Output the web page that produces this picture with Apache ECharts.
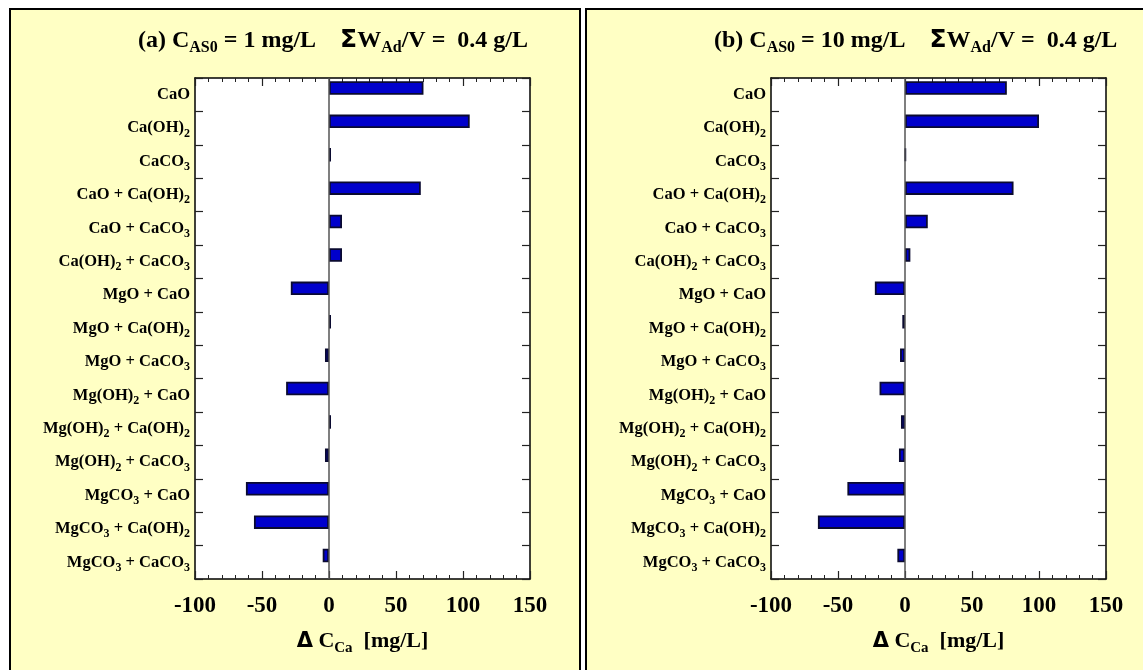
<!DOCTYPE html>
<html>
<head>
<meta charset="utf-8">
<script src="https://cdn.jsdelivr.net/npm/echarts@6/dist/echarts.min.js"></script>
<style>
html,body{margin:0;padding:0;background:#fff;}
#chart{width:1143px;height:670px;}
</style>
</head>
<body>
<div id="chart"></div>
<script>
// Data
var categories = ['CaO','Ca(OH)2','CaCO3','CaO + Ca(OH)2','CaO + CaCO3','Ca(OH)2 + CaCO3',
  'MgO + CaO','MgO + Ca(OH)2','MgO + CaCO3','Mg(OH)2 + CaO','Mg(OH)2 + Ca(OH)2',
  'Mg(OH)2 + CaCO3','MgCO3 + CaO','MgCO3 + Ca(OH)2','MgCO3 + CaCO3'];
var valuesA = [70.5, 105, 1.5, 68.5, 9.7, 9.7, -28.5, 1.5, -3, -32, 1.5, -3, -62, -56, -4.7];
var valuesB = [76, 100, 0.5, 81, 17, 4, -22.5, -2, -3.7, -19, -3, -4.5, -43, -65, -5.7];
var xTicks = [-100, -50, 0, 50, 100, 150];
var titleA = '(a) C{sub|AS0} = 1 mg/L    {sig|Σ}W{sub|Ad}/V =  0.4 g/L';
var titleB = '(b) C{sub|AS0} = 10 mg/L    {sig|Σ}W{sub|Ad}/V =  0.4 g/L';
var axisName = '{sig|Δ} C{sub|Ca}  [mg/L]';

var SERIF = 'Liberation Serif';
var chart = echarts.init(document.getElementById('chart'));

function catFmt(v){ return v.replace(/(\d)/g, '{s|$1}'); }

var grids = [
  {left:195, top:78, width:335, height:501},
  {left:771, top:78, width:335, height:501}
];

var xAxes = [], yAxes = [], series = [];
[valuesA, valuesB].forEach(function(vals, gi){
  var common = {
    gridIndex: gi, type:'value', min: xTicks[0], max: xTicks[xTicks.length-1], interval: 50,
    splitLine:{show:false},
    axisLine:{show:true, onZero:false, lineStyle:{color:'#000', width:1.5}},
    axisTick:{show:true, inside:true, length:8, lineStyle:{color:'#222', width:1.2}},
    minorTick:{show:true, splitNumber:5, length:4, lineStyle:{color:'#222', width:1}},
  };
  xAxes.push(Object.assign({}, common, {
    position:'bottom',
    axisLabel:{show:true, margin:16, color:'#000', fontFamily:SERIF, fontWeight:'bold', fontSize:23},
    name: axisName, nameLocation:'middle', nameGap:48,
    nameTextStyle:{color:'#000', fontFamily:SERIF, fontWeight:'bold', fontSize:22,
      rich:{
        sig:{fontFamily:'DejaVu Sans', fontWeight:'bold', fontSize:21, color:'#000'},
        sub:{fontFamily:SERIF, fontWeight:'bold', fontSize:15, color:'#000', padding:[14,0,0,0]}
      }}
  }));
  xAxes.push(Object.assign({}, common, {position:'top', axisLabel:{show:false}}));
  var ycommon = {
    gridIndex: gi, type:'category', inverse:true, data: categories,
    axisLine:{show:true, onZero:false, lineStyle:{color:'#000', width:1.5}},
    axisTick:{show:true, inside:true, length:8, alignWithLabel:false, lineStyle:{color:'#222', width:1.2}},
    splitLine:{show:false}
  };
  yAxes.push(Object.assign({}, ycommon, {
    position:'left',
    axisLabel:{show:true, margin:5, color:'#000', fontFamily:SERIF, fontWeight:'bold', fontSize:16.5,
      formatter: catFmt, interval:0,
      rich:{ s:{fontFamily:SERIF, fontWeight:'bold', fontSize:12, color:'#000', padding:[11,0,0,0]} }}
  }));
  yAxes.push(Object.assign({}, ycommon, {position:'right', axisLabel:{show:false}}));
  series.push({
    type:'bar', xAxisIndex: gi*2, yAxisIndex: gi*2, data: vals,
    barWidth:13.5, barGap:'0%',
    itemStyle:{color:'#0000CC', borderColor:'#0a0a30', borderWidth:1.8},
    markLine:{silent:true, symbol:'none', label:{show:false},
      lineStyle:{color:'#555', width:1.5, type:'solid'}, data:[{xAxis:0}]},
    z: 3
  });
  series.push({
    type:'bar', xAxisIndex: gi*2, yAxisIndex: gi*2,
    data: categories.map(function(){return '-';}),
    barWidth:13.5, barGap:'0%', itemStyle:{color:'transparent'}
  });
});

var titleStyle = {color:'#000', fontFamily:SERIF, fontWeight:'bold', fontSize:24,
  rich:{
    sig:{fontFamily:'DejaVu Sans', fontWeight:'bold', fontSize:25, color:'#000'},
    sub:{fontFamily:SERIF, fontWeight:'bold', fontSize:16, color:'#000', padding:[15,0,0,0]}
  }};

chart.setOption({
  backgroundColor:'#fff',
  animation:false,
  graphic:[
    {type:'rect', z:-10, shape:{x:10, y:9, width:570, height:690}, style:{fill:'#FFFFC4', stroke:'#000', lineWidth:2}},
    {type:'rect', z:-10, shape:{x:586, y:9, width:600, height:690}, style:{fill:'#FFFFC4', stroke:'#000', lineWidth:2}}
  ],
  title:[
    {text:titleA, left:133, top:20, textStyle:titleStyle},
    {text:titleB, left:709, top:20, textStyle:titleStyle}
  ],
  grid: grids.map(function(g){ return Object.assign({show:true, backgroundColor:'#fff', borderWidth:0}, g); }),
  xAxis: xAxes,
  yAxis: yAxes,
  series: series
});
</script>
</body>
</html>
